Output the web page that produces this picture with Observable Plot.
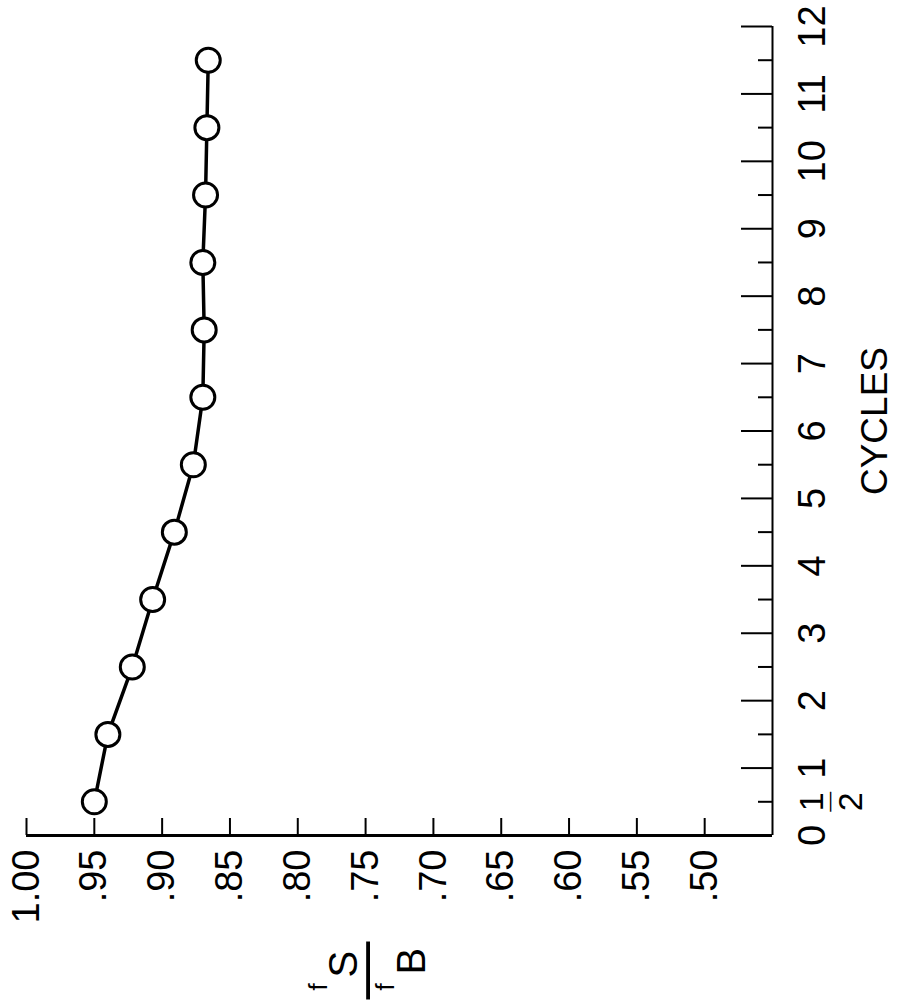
<!DOCTYPE html>
<html>
<head>
<meta charset="utf-8">
<script src="https://cdn.jsdelivr.net/npm/d3@7"></script>
<script src="https://cdn.jsdelivr.net/npm/@observablehq/plot@0.6"></script>
<style>
  html, body { margin: 0; padding: 0; background: #fff; }
  #chart svg { display: block; }
</style>
</head>
<body>
<div id="chart"></div>
<script>
// ---- data (chart is printed rotated 90° counter-clockwise) ----
const cycles = [0.5, 1.5, 2.5, 3.5, 4.5, 5.5, 6.5, 7.5, 8.5, 9.5, 10.5, 11.5];
const ratio  = [0.950, 0.940, 0.922, 0.907, 0.891, 0.877, 0.870, 0.869, 0.870, 0.868, 0.867, 0.866];

const valueTicks      = [1.00, 0.95, 0.90, 0.85, 0.80, 0.75, 0.70, 0.65, 0.60, 0.55, 0.50];
const valueTickLabels = ["1.00", ".95", ".90", ".85", ".80", ".75", ".70", ".65", ".60", ".55", ".50"];

const cycleTicks      = [0, 1, 2, 3, 4, 5, 6, 7, 8, 9, 10, 11, 12];
const cycleTickLabels = ["0", "1", "2", "3", "4", "5", "6", "7", "8", "9", "10", "11", "12"];
const halfTicks       = [0.5, 1.5, 2.5, 3.5, 4.5, 5.5, 6.5, 7.5, 8.5, 9.5, 10.5, 11.5];
const halfLabelAt     = [0.5];           // the "½" label
const halfLabelParts  = ["1", "—", "2"]; // numerator, bar, denominator

const xTitle = "CYCLES";
const yTitleNumerator   = ["f", "S"];
const yTitleDenominator = ["f", "B"];

const data = cycles.map((c, i) => ({cycle: c, ratio: ratio[i]}));

const font = "'Liberation Sans', Arial, sans-serif";
const ink = "#000";

const chart = Plot.plot({
  width: 904,
  height: 1000,
  marginLeft: 26,
  marginRight: 132,
  marginTop: 26,
  marginBottom: 165,
  style: {fontFamily: font, background: "#fff", color: ink, overflow: "visible"},
  x: {domain: [0.45, 1.0], reverse: true},
  y: {domain: [0, 12]},
  marks: [
    // axis lines
    Plot.ruleY([0], {stroke: ink, strokeWidth: 3}),
    Plot.ruleX([0.45], {stroke: ink, strokeWidth: 2}),
    // inward tick marks
    Plot.ruleX(valueTicks, {x: d => d, insetTop: 792, stroke: ink, strokeWidth: 2}),
    Plot.ruleY(cycleTicks, {y: d => d, insetLeft: 715, stroke: ink, strokeWidth: 2}),
    Plot.ruleY(halfTicks, {y: d => d, insetLeft: 732, stroke: ink, strokeWidth: 2}),
    // tick labels
    Plot.axisX(valueTicks, {
      anchor: "bottom", tickSize: 0, tickPadding: 14, tickRotate: -90,
      textAnchor: "end", lineAnchor: "middle", fontSize: 38, fill: ink, label: null,
      tickFormat: d => valueTickLabels[valueTicks.indexOf(d)]
    }),
    Plot.axisY(cycleTicks, {
      anchor: "right", tickSize: 0, tickPadding: 26, tickRotate: -90,
      textAnchor: "middle", lineAnchor: "top", fontSize: 38, fill: ink, label: null,
      tickFormat: d => cycleTickLabels[cycleTicks.indexOf(d)]
    }),
    // "1/2" label as a stacked fraction
    Plot.text(halfLabelAt, {y: d => d, frameAnchor: "right", text: () => halfLabelParts[0],
      rotate: -90, textAnchor: "middle", lineAnchor: "top", dx: 26, fontSize: 34, fill: ink}),
    Plot.text(halfLabelAt, {y: d => d, frameAnchor: "right", text: () => halfLabelParts[1],
      rotate: -90, textAnchor: "middle", lineAnchor: "middle", dx: 57, fontSize: 20, fill: ink}),
    Plot.text(halfLabelAt, {y: d => d, frameAnchor: "right", text: () => halfLabelParts[2],
      rotate: -90, textAnchor: "middle", lineAnchor: "top", dx: 65, fontSize: 34, fill: ink}),
    // axis title CYCLES
    Plot.text([xTitle], {frameAnchor: "right", text: d => d, rotate: -90,
      textAnchor: "middle", lineAnchor: "top", dx: 88, dy: -10, fontSize: 37, fill: ink}),
    // axis title fS / fB
    Plot.text([yTitleNumerator[0]], {frameAnchor: "bottom-left", text: d => d, rotate: -90,
      textAnchor: "start", lineAnchor: "top", dx: 282, dy: 155, fontSize: 26, fill: ink}),
    Plot.text([yTitleNumerator[1]], {frameAnchor: "bottom-left", text: d => d, rotate: -90,
      textAnchor: "start", lineAnchor: "top", dx: 302, dy: 142, fontSize: 40, fill: ink}),
    Plot.text(["—"], {frameAnchor: "bottom-left", text: d => d, rotate: -90,
      textAnchor: "middle", lineAnchor: "middle", dx: 338, dy: 135, fontSize: 58, fill: ink}),
    Plot.text([yTitleDenominator[0]], {frameAnchor: "bottom-left", text: d => d, rotate: -90,
      textAnchor: "start", lineAnchor: "top", dx: 349, dy: 155, fontSize: 26, fill: ink}),
    Plot.text([yTitleDenominator[1]], {frameAnchor: "bottom-left", text: d => d, rotate: -90,
      textAnchor: "start", lineAnchor: "top", dx: 370, dy: 139, fontSize: 40, fill: ink}),
    // data
    Plot.line(data, {x: "ratio", y: "cycle", stroke: ink, strokeWidth: 3.5}),
    Plot.dot(data, {x: "ratio", y: "cycle", r: 12, fill: "#fff", stroke: ink, strokeWidth: 3})
  ]
});

document.getElementById("chart").appendChild(chart);
</script>
</body>
</html>
